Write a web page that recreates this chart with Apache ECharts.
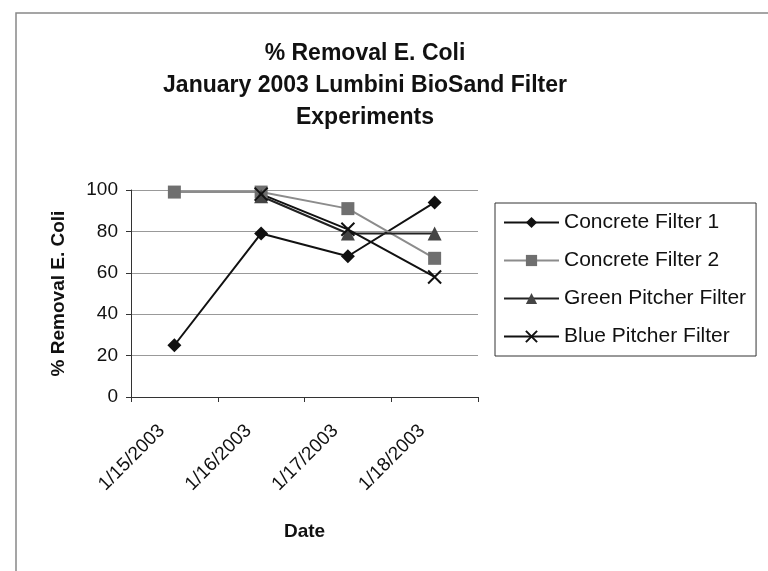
<!DOCTYPE html>
<html><head><meta charset="utf-8">
<script src="https://cdn.jsdelivr.net/npm/echarts@6/dist/echarts.min.js"></script>
<style>html,body{margin:0;padding:0;background:#fff}#c{width:768px;height:571px}</style>
</head><body><div id="c"></div>
<script>
var categories = ['1/15/2003', '1/16/2003', '1/17/2003', '1/18/2003'];
var concrete1 = [25, 79, 68, 94];
var concrete2 = [99, 99, 91, 67];
var greenPitcher = [null, 97, 79, 79];
var bluePitcher = [null, 98, 81, 58];
var yTicks = [0, 20, 40, 60, 80, 100];

var font = '"Liberation Sans", Arial, sans-serif';
var chart = echarts.init(document.getElementById('c'));
var xPath = 'path://M0,0L10,10M10,0L0,10';
chart.setOption({
  animation: false,
  backgroundColor: '#fff',
  graphic: [{
    type: 'rect', shape: {x: 16, y: 13, width: 800, height: 600},
    style: {fill: 'none', stroke: '#888', lineWidth: 1.5}, silent: true
  }],
  title: {
    text: '% Removal E. Coli\nJanuary 2003 Lumbini BioSand Filter\nExperiments',
    left: 360, top: 33, textAlign: 'center',
    textStyle: {fontFamily: font, fontSize: 23, fontWeight: 'bold', color: '#111', lineHeight: 32}
  },
  legend: {
    orient: 'vertical', left: 495, top: 203,
    padding: [9, 10, 9, 8],
    borderColor: '#333', borderWidth: 1,
    itemWidth: 55, itemHeight: 14, itemGap: 17,
    textStyle: {fontFamily: font, fontSize: 21, color: '#111'},
    data: ['Concrete Filter 1', 'Concrete Filter 2', 'Green Pitcher Filter', 'Blue Pitcher Filter']
  },
  grid: {left: 131, right: 290, top: 190, bottom: 174, containLabel: false},
  xAxis: {
    type: 'category', data: categories, boundaryGap: true,
    name: 'Date', nameLocation: 'middle', nameGap: 125,
    nameTextStyle: {fontFamily: font, fontSize: 19, fontWeight: 'bold', color: '#111'},
    axisLine: {lineStyle: {color: '#333', width: 1}},
    axisTick: {show: true, length: 5, lineStyle: {color: '#333'}},
    axisLabel: {rotate: 45, fontFamily: font, fontSize: 19, color: '#111', margin: 18,
      padding: [0, 18, 0, 0]}
  },
  yAxis: {
    type: 'value', min: 0, max: 100, interval: 20,
    name: '% Removal E. Coli', nameLocation: 'middle', nameGap: 63,
    nameTextStyle: {fontFamily: font, fontSize: 19, fontWeight: 'bold', color: '#111'},
    axisLine: {show: true, lineStyle: {color: '#333', width: 1}},
    axisTick: {show: true, length: 5, lineStyle: {color: '#333'}},
    axisLabel: {fontFamily: font, fontSize: 19, color: '#111', margin: 13,
      formatter: function (v) { return yTicks.indexOf(v) >= 0 ? String(v) : ''; }},
    splitLine: {show: true, lineStyle: {color: '#999', width: 1}}
  },
  series: [
    {name: 'Concrete Filter 1', type: 'line', data: concrete1,
     symbol: 'diamond', symbolSize: 14,
     lineStyle: {color: '#111', width: 2}, itemStyle: {color: '#111'}},
    {name: 'Concrete Filter 2', type: 'line', data: concrete2,
     symbol: 'rect', symbolSize: 13,
     lineStyle: {color: '#8c8c8c', width: 2}, itemStyle: {color: '#6f6f6f'}},
    {name: 'Green Pitcher Filter', type: 'line', data: greenPitcher, connectNulls: false,
     symbol: 'triangle', symbolSize: 14,
     lineStyle: {color: '#222', width: 2}, itemStyle: {color: '#444'}},
    {name: 'Blue Pitcher Filter', type: 'line', data: bluePitcher, connectNulls: false,
     symbol: xPath, symbolSize: 13,
     lineStyle: {color: '#111', width: 2}, itemStyle: {color: 'none', borderColor: '#111', borderWidth: 2}}
  ]
});
</script></body></html>
